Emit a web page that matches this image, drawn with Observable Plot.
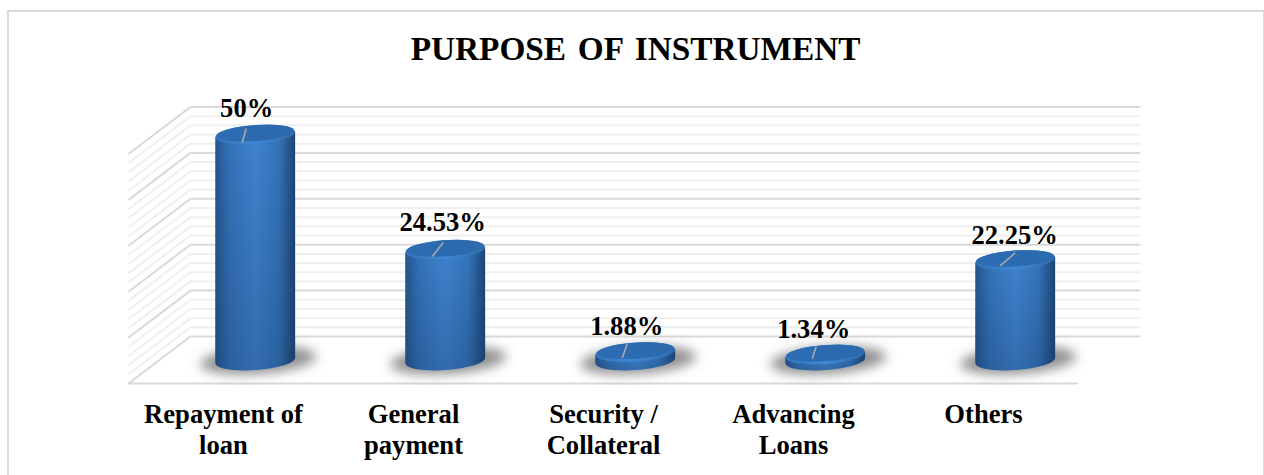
<!DOCTYPE html>
<html>
<head>
<meta charset="utf-8">
<script src="https://cdn.jsdelivr.net/npm/d3@7"></script>
<script src="https://cdn.jsdelivr.net/npm/@observablehq/plot@0.6"></script>
<style>
  html, body { margin: 0; background: #fff; }
  svg { display: block; }
</style>
</head>
<body>
<div id="chart"></div>
<script>
const chartTitle = "PURPOSE OF INSTRUMENT";
const categories = ["Repayment of\nloan", "General\npayment", "Security /\nCollateral", "Advancing\nLoans", "Others"];
const shares = [50, 24.53, 1.88, 1.34, 22.25];
const shareLabels = ["50%", "24.53%", "1.88%", "1.34%", "22.25%"];

// Label nudges and leader strokes, in pixels from the centre of each cylinder top.
const labelNudges = [[-9, -22], [-3, -25], [-9, -25], [-12, -24], [-1, -22]];
const leaderStrokes = [[-13, 8, -9, -6], [-13, 7, -2, -7], [-13, 6, -8, -8], [-13, 4, -9, -8], [-15, 6, 0, -7]];

const FONT = "'Liberation Serif', 'Times New Roman', serif";

// The floor recedes by this much, expressed in scale units.
const depthX = 0.326;
const depthY = 10.24;

const slots = categories.map((_, i) => i + 0.5);
const bars = categories.map((category, i) => ({category, share: shares[i], label: shareLabels[i], slot: slots[i], i}));
const midX = s => s + depthX * 0.52;
const midY = v => v + depthY / 2;

const minorLevels = d3.range(0, 51, 2).filter(v => v % 10 !== 0);
const majorLevels = d3.range(0, 51, 10);

const NS = "http://www.w3.org/2000/svg";
function el(tag, attrs, parent) {
  const node = document.createElementNS(NS, tag);
  for (const k in attrs) node.setAttribute(k, attrs[k]);
  if (parent) parent.appendChild(node);
  return node;
}
function gradient(defs, id, x2, y2, stops) {
  const g = el("linearGradient", {id, x1: 0, y1: 0, x2, y2}, defs);
  for (const [offset, color, opacity = 1] of stops) {
    el("stop", {offset, "stop-color": color, "stop-opacity": opacity}, g);
  }
}

// Draws each rect as a shaded cylinder with its shadow, rim and leader stroke.
function cylinders(index, scales, values) {
  const root = el("g", {});
  const defs = el("defs", {}, root);
  gradient(defs, "cyl-side", 1, 0, [
    [0, "#2e66a6"], [0.12, "#3270b4"], [0.5, "#3f83cf"], [0.85, "#3372b6"], [1, "#285a92"]
  ]);
  gradient(defs, "cyl-fade", 0, 1, [
    [0, "#0f2a4f", 0], [1, "#0f2a4f", 0.26]
  ]);
  gradient(defs, "cyl-edge", 1, 0, [
    [0, "#0f2a4f", 0.28], [0.18, "#0f2a4f", 0], [0.78, "#0f2a4f", 0], [1, "#0f2a4f", 0.42]
  ]);
  gradient(defs, "cyl-top", 1, 0, [
    [0, "#2e6db4"], [0.5, "#2c6ab0"], [1, "#2d6bae"]
  ]);
  gradient(defs, "cyl-rim", 1, 0, [
    [0, "#3675bb"], [0.5, "#4088d4"], [1, "#306bab"]
  ]);
  const blur = el("filter", {id: "cyl-blur", x: "-30%", y: "-100%", width: "160%", height: "300%"}, defs);
  el("feGaussianBlur", {stdDeviation: 6}, blur);

  const tilt = -4;
  const ry = 9.5;
  const lean = 2.8;
  const foreshorten = 0.985;
  for (const i of index) {
    const cx = (values.x1[i] + values.x2[i]) / 2;
    const rx = Math.abs(values.x2[i] - values.x1[i]) / 2;
    const base = values.y1[i] + 1;
    const h = (values.y1[i] - values.y2[i]) * foreshorten;
    const g = el("g", {transform: `translate(${cx},${base})`}, root);
    el("ellipse", {cx: 3, cy: 0, rx: rx + 18, ry: ry + 4, fill: "#4a4a4a", "fill-opacity": 0.62,
      filter: "url(#cyl-blur)", transform: `rotate(${tilt})`}, g);
    const side = `M${-rx},${-h + lean}L${-rx},${lean}A${rx},${ry} ${tilt} 0 0 ${rx},${-lean}L${rx},${-h - lean}Z`;
    el("path", {d: side, fill: "url(#cyl-side)"}, g);
    el("path", {d: side, fill: "url(#cyl-fade)"}, g);
    el("path", {d: side, fill: "url(#cyl-edge)"}, g);
    el("ellipse", {cx: 0, cy: -h, rx, ry, fill: "url(#cyl-rim)", transform: `rotate(${tilt} 0 ${-h})`}, g);
    el("ellipse", {cx: 0, cy: -h - 1.3, rx: rx - 1, ry: ry - 1.5, fill: "url(#cyl-top)", transform: `rotate(${tilt} 0 ${-h - 1.3})`}, g);
    const [a, b, c, d] = leaderStrokes[i];
    el("line", {x1: a, y1: -h + b, x2: c, y2: -h + d, stroke: "#a9a9a9", "stroke-width": 1.6}, g);
  }
  return root;
}

const wallLine = (levels, stroke) => [
  // back wall
  Plot.link(levels, {
    x1: depthX, x2: 5 + depthX,
    y1: v => v + depthY, y2: v => v + depthY,
    stroke, strokeWidth: 2
  }),
  // side wall
  Plot.link(levels, {
    x1: 0, x2: depthX,
    y1: v => v, y2: v => v + depthY,
    stroke, strokeWidth: 2
  })
];

const chart = Plot.plot({
  width: 1264,
  height: 475,
  marginTop: 0,
  marginLeft: 0,
  marginRight: 0,
  marginBottom: 92,
  style: {fontFamily: FONT, background: "#fff", color: "#000"},
  x: {domain: [0, 5], range: [128, 1078], axis: null},
  y: {domain: [0, 50], range: [383, 153.5], axis: null},
  marks: [
    Plot.frame({insetLeft: 7.5, insetTop: 10.5, insetRight: 0.5, insetBottom: -200, stroke: "#d9d9d9", strokeWidth: 2}),
    Plot.text([chartTitle], {
      frameAnchor: "top", lineAnchor: "top", dx: 3, dy: 36,
      fontFamily: FONT, fontWeight: "bold", fontSize: 33.3, fill: "#000"
    }),
    ...wallLine(minorLevels, "#efefef"),
    ...wallLine(majorLevels, "#d9d9d9"),
    // front edge of the floor
    Plot.ruleY([0], {x1: 0, x2: 5, stroke: "#d9d9d9", strokeWidth: 2}),
    Plot.rect(bars, {
      x1: d => midX(d.slot) - 0.21,
      x2: d => midX(d.slot) + 0.21,
      y1: d => midY(0),
      y2: d => midY(d.share),
      render: cylinders
    }),
    ...bars.map(d => Plot.text([d], {
      x: midX(d.slot),
      y: midY(d.share),
      text: "label",
      dx: labelNudges[d.i][0],
      dy: labelNudges[d.i][1],
      fontFamily: FONT, fontWeight: "bold", fontSize: 26.6, fill: "#000"
    })),
    Plot.axisX(slots, {
      anchor: "bottom",
      tickSize: 0,
      tickPadding: 17,
      tickFormat: s => categories[s - 0.5],
      lineHeight: 1.17,
      fontFamily: FONT, fontWeight: "bold", fontSize: 26.6, fill: "#000",
      label: null
    })
  ]
});

// Wider gaps between the words of the heading.
for (const t of chart.querySelectorAll("text")) {
  if (t.textContent === chartTitle) t.style.wordSpacing = "3.5px";
}
document.getElementById("chart").appendChild(chart);
</script>
</body>
</html>
